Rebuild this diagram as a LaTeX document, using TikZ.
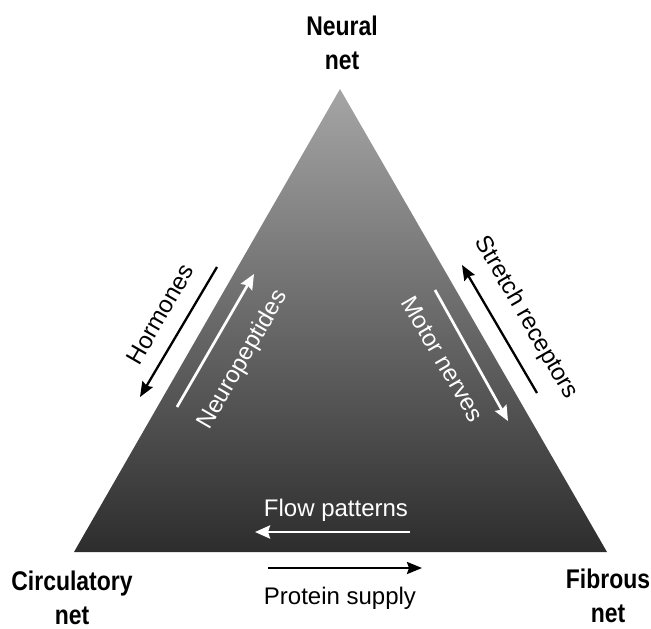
\documentclass[tikz,border=0pt]{standalone}
\usepackage{fontspec}
\setmainfont{Liberation Sans}
\newfontfamily\netfont[FakeStretch=0.85]{Liberation Sans}
\usetikzlibrary{arrows.meta}
\definecolor{apexgray}{RGB}{165,165,165}
\definecolor{midgray}{RGB}{105,105,105}
\definecolor{basegray}{RGB}{45,45,45}

\begin{document}
\begin{tikzpicture}[x=1pt,y=-1pt,
  netlabel/.style={align=center,font=\netfont\bfseries\fontsize{27}{34}\selectfont},
  flowtext/.style={font=\fontsize{24}{28}\selectfont,inner sep=0pt},
  outarrow/.style={line width=2.3pt,-{Stealth[length=15pt,width=12pt,inset=2pt]}},
  inarrow/.style={white,line width=2.7pt,-{Stealth[length=15pt,width=13pt,inset=2pt]}}]
  \useasboundingbox (0,0) rectangle (651,629);
  % the three nets
  \coordinate (N) at (340,89);
  \coordinate (C) at (74,552);
  \coordinate (F) at (607,552);
  \shade[top color=apexgray,middle color=midgray,bottom color=basegray] (N) -- (C) -- (F) -- cycle;
  \node[netlabel] (neural) at (342,43) {Neural\\net};
  \node[netlabel] (circulatory) at (72,598) {Circulatory\\net};
  \node[netlabel] (fibrous) at (608,596) {Fibrous\\net};
  % left side
  \coordinate (hormtail) at (217,267);
  \coordinate (hormtip) at (140,397);
  \coordinate (peptail) at (177,407);
  \coordinate (peptip) at (254,274);
  \draw[outarrow] (hormtail) -- (hormtip);
  \draw[inarrow] (peptail) -- (peptip);
  \node[flowtext,rotate=60] (hormones) at (160,314) {Hormones};
  \node[flowtext,white,rotate=60] (neuropeptides) at (243,360) {Neuropeptides};
  % right side
  \coordinate (strtail) at (537,393);
  \coordinate (strtip) at (462,265);
  \coordinate (mottail) at (435,290);
  \coordinate (mottip) at (508,421);
  \draw[outarrow] (strtail) -- (strtip);
  \draw[inarrow] (mottail) -- (mottip);
  \node[flowtext,rotate=-60] (stretch) at (526,318) {Stretch receptors};
  \node[flowtext,white,rotate=-60] (motor) at (443,359) {Motor nerves};
  % base
  \coordinate (flowtail) at (410,532);
  \coordinate (flowtip) at (255,532);
  \coordinate (prottail) at (268,568);
  \coordinate (prottip) at (422,568);
  \draw[inarrow] (flowtail) -- (flowtip);
  \draw[outarrow] (prottail) -- (prottip);
  \node[flowtext,white] (flow) at (336,510) {Flow patterns};
  \node[flowtext] (protein) at (340,598) {Protein supply};
\end{tikzpicture}
\end{document}
